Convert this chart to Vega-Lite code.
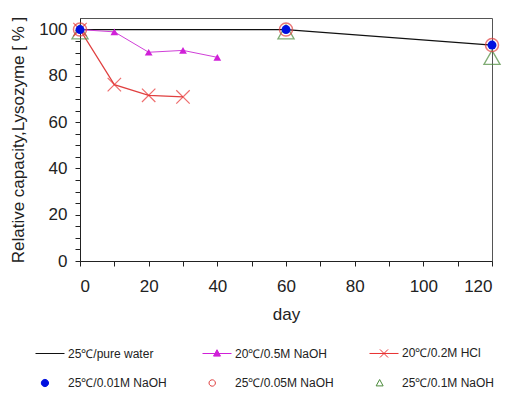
{
  "$schema": "https://vega.github.io/schema/vega-lite/v6.json",
  "width": 412,
  "height": 243,
  "autosize": {"type": "none"},
  "padding": {"left": 80, "top": 18, "right": 30, "bottom": 133},
  "background": "white",
  "config": {
    "font": "Liberation Sans",
    "view": {"stroke": "#555", "strokeWidth": 1},
    "axis": {"grid": false, "domainColor": "#222", "tickColor": "#222", "labelColor": "#222", "titleColor": "#222", "labelFontSize": 17, "titleFontSize": 17, "titleFontWeight": "normal", "tickSize": 5}
  },
  "data": {"values": [
    {"series": "25℃/pure water", "day": 0, "value": 100},
    {"series": "25℃/pure water", "day": 60, "value": 100},
    {"series": "25℃/pure water", "day": 120, "value": 93.3},
    {"series": "20℃/0.5M NaOH", "day": 0, "value": 100},
    {"series": "20℃/0.5M NaOH", "day": 10, "value": 99},
    {"series": "20℃/0.5M NaOH", "day": 20, "value": 90.2},
    {"series": "20℃/0.5M NaOH", "day": 30, "value": 91},
    {"series": "20℃/0.5M NaOH", "day": 40, "value": 88},
    {"series": "20℃/0.2M HCl", "day": 0, "value": 100},
    {"series": "20℃/0.2M HCl", "day": 10, "value": 76.2},
    {"series": "20℃/0.2M HCl", "day": 20, "value": 71.6},
    {"series": "20℃/0.2M HCl", "day": 30, "value": 70.9},
    {"series": "25℃/0.01M NaOH", "day": 0, "value": 100},
    {"series": "25℃/0.01M NaOH", "day": 60, "value": 100},
    {"series": "25℃/0.01M NaOH", "day": 120, "value": 93.3},
    {"series": "25℃/0.05M NaOH", "day": 0, "value": 100},
    {"series": "25℃/0.05M NaOH", "day": 60, "value": 100},
    {"series": "25℃/0.05M NaOH", "day": 120, "value": 93.3},
    {"series": "25℃/0.1M NaOH", "day": 0, "value": 99},
    {"series": "25℃/0.1M NaOH", "day": 60, "value": 99},
    {"series": "25℃/0.1M NaOH", "day": 120, "value": 88}
  ]},
  "encoding": {
    "x": {"field": "day", "type": "quantitative", "scale": {"domain": [0, 120], "nice": false},
      "axis": {"title": "day", "values": [0,10,20,30,40,50,60,70,80,90,100,110,120], "labelExpr": "datum.value % 20 === 0 ? datum.label : ''", "labelPadding": 12, "titlePadding": 12}},
    "y": {"field": "value", "type": "quantitative", "scale": {"domain": [0, 105], "nice": false},
      "axis": {"title": "Relative capacity,Lysozyme [ % ]", "values": [0,5,10,15,20,25,30,35,40,45,50,55,60,65,70,75,80,85,90,95,100], "labelExpr": "datum.value % 20 === 0 ? datum.label : ''", "labelPadding": 8, "titlePadding": 11}}
  },
  "layer": [
    {"transform": [{"filter": "datum.series === '25℃/pure water'"}], "mark": {"type": "line", "color": "#111", "strokeWidth": 1.3}},
    {"transform": [{"filter": "datum.series === '20℃/0.5M NaOH'"}], "mark": {"type": "line", "color": "#d040d8", "strokeWidth": 1}},
    {"transform": [{"filter": "datum.series === '20℃/0.2M HCl'"}], "mark": {"type": "line", "color": "#e04040", "strokeWidth": 1.2}},
    {"transform": [{"filter": "datum.series === '25℃/0.1M NaOH'"}], "mark": {"type": "point", "shape": "triangle-up", "size": 260, "filled": false, "color": "#4a8a3a", "strokeWidth": 1.3}},
    {"transform": [{"filter": "datum.series === '25℃/0.05M NaOH'"}], "mark": {"type": "point", "shape": "circle", "size": 170, "filled": false, "color": "#e04040", "strokeWidth": 1.5}},
    {"transform": [{"filter": "datum.series === '20℃/0.5M NaOH'"}], "mark": {"type": "point", "shape": "triangle-up", "size": 60, "filled": true, "color": "#d020d8", "opacity": 1}},
    {"transform": [{"filter": "datum.series === '20℃/0.2M HCl'"}], "mark": {"type": "point", "shape": "M-1,-1L1,1M-1,1L1,-1", "size": 180, "filled": false, "color": "#e83030", "strokeWidth": 1.2}},
    {"transform": [{"filter": "datum.series === '25℃/0.01M NaOH'"}], "mark": {"type": "point", "shape": "circle", "size": 80, "filled": true, "color": "#0010e0", "opacity": 1}},
    {
      "mark": {"type": "point", "opacity": 0, "strokeWidth": 1},
      "encoding": {
        "shape": {"field": "series", "type": "nominal",
          "scale": {"domain": ["25℃/pure water", "20℃/0.5M NaOH", "20℃/0.2M HCl", "25℃/0.01M NaOH", "25℃/0.05M NaOH", "25℃/0.1M NaOH"],
            "range": ["M-1,0H1", "M-1,0H1M0,-0.26L0.24,0.18L-0.24,0.18Z", "M-1,0H1M-0.28,-0.28L0.28,0.28M-0.28,0.28L0.28,-0.28", "M-0.6,0A0.25,0.25 0 1,1 -0.1,0A0.25,0.25 0 1,1 -0.6,0Z", "M-0.55,0A0.22,0.22 0 1,1 -0.11,0A0.22,0.22 0 1,1 -0.55,0Z", "M-0.3,-0.24L-0.06,0.2L-0.54,0.2Z"]},
          "legend": {"title": null, "orient": "none", "legendX": -45, "legendY": 320, "columns": 3, "direction": "horizontal", "symbolSize": 841, "symbolOpacity": 1, "symbolStrokeWidth": 1, "labelFontSize": 12, "labelColor": "#222", "labelOffset": 3, "columnPadding": 33, "rowPadding": 8, "gridAlign": "all", "labelLimit": 200}},
        "stroke": {"field": "series", "type": "nominal",
          "scale": {"domain": ["25℃/pure water", "20℃/0.5M NaOH", "20℃/0.2M HCl", "25℃/0.01M NaOH", "25℃/0.05M NaOH", "25℃/0.1M NaOH"],
            "range": ["#111", "#d020d8", "#e83030", "#0010e0", "#e04040", "#4a8a3a"]}},
        "fill": {"field": "series", "type": "nominal",
          "scale": {"domain": ["25℃/pure water", "20℃/0.5M NaOH", "20℃/0.2M HCl", "25℃/0.01M NaOH", "25℃/0.05M NaOH", "25℃/0.1M NaOH"],
            "range": ["transparent", "#d020d8", "transparent", "#0010e0", "transparent", "transparent"]}}
      }
    }
  ]
}
